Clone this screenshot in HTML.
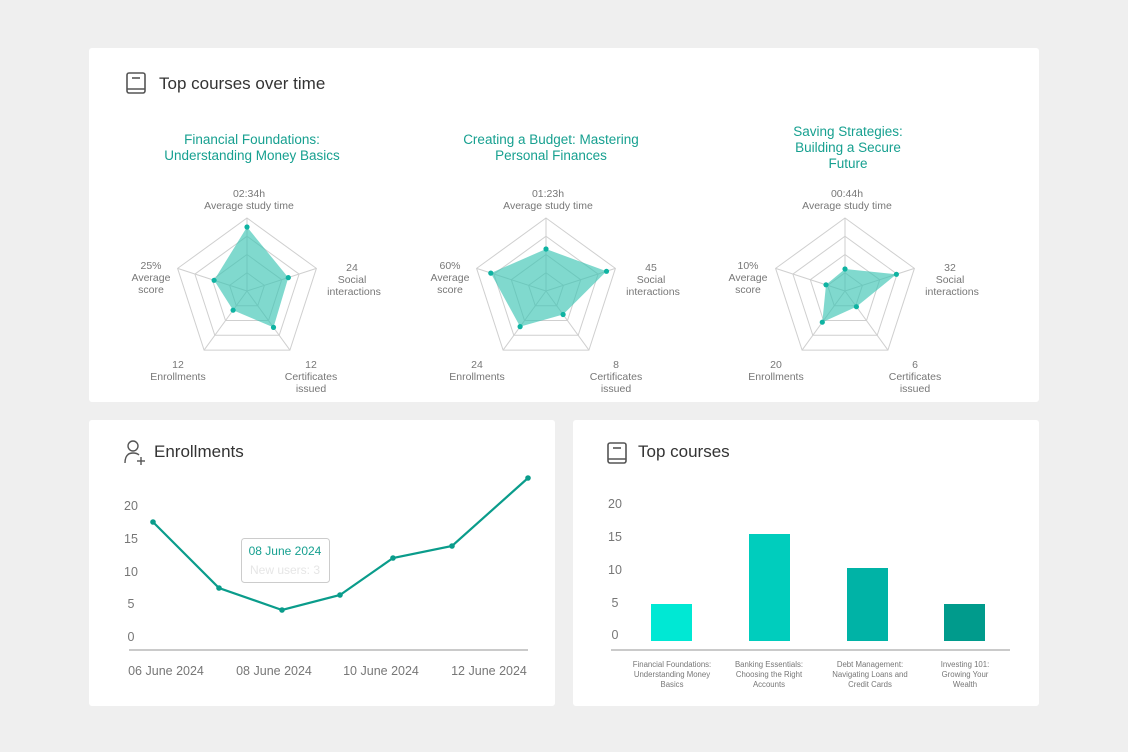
<!DOCTYPE html>
<html><head><meta charset="utf-8"><style>
body{margin:0;background:#efefef;font-family:"Liberation Sans",sans-serif;}
svg{display:block}
</style></head><body>
<svg width="1128" height="752" xmlns="http://www.w3.org/2000/svg" font-family="Liberation Sans, sans-serif">
<rect width="1128" height="752" fill="#efefef"/>
<rect x="89" y="48" width="950" height="354" rx="3" fill="#fff"/>
<rect x="89" y="420" width="466" height="286" rx="3" fill="#fff"/>
<rect x="573" y="420" width="466" height="286" rx="3" fill="#fff"/>

<!-- header 1 -->
<g fill="none" stroke="#555" stroke-width="1.6">
<rect x="127" y="73" width="18" height="20" rx="2"/><line x1="127" y1="89" x2="145" y2="89"/><line x1="132" y1="78" x2="140" y2="78"/>
</g>
<text x="159" y="89" font-size="17" fill="#333">Top courses over time</text>

<defs>
<g id="grid" fill="none" stroke="#cfcfcf" stroke-width="1">
<polygon points="0,-73 69.4,-22.6 42.9,59.1 -42.9,59.1 -69.4,-22.6"/>
<polygon points="0,-54.75 52.1,-16.9 32.2,44.3 -32.2,44.3 -52.1,-16.9"/>
<polygon points="0,-36.5 34.7,-11.3 21.5,29.5 -21.5,29.5 -34.7,-11.3"/>
<polygon points="0,-18.25 17.4,-5.6 10.7,14.8 -10.7,14.8 -17.4,-5.6"/>
<line x1="0" y1="0" x2="0" y2="-73"/><line x1="0" y1="0" x2="69.4" y2="-22.6"/><line x1="0" y1="0" x2="42.9" y2="59.1"/><line x1="0" y1="0" x2="-42.9" y2="59.1"/><line x1="0" y1="0" x2="-69.4" y2="-22.6"/>
</g>
</defs>

<g font-size="10.5" fill="#777" text-anchor="middle">
<!-- chart 1 -->
<g transform="translate(247,291)">
<use href="#grid"/>
<polygon points="0,-64 41.3,-13.4 26.5,36.4 -13.9,19.2 -32.9,-10.7" fill="#3cc4b4" fill-opacity="0.65"/>
<g fill="#0fb3a2"><circle cx="0" cy="-64" r="2.6"/><circle cx="41.3" cy="-13.4" r="2.6"/><circle cx="26.5" cy="36.4" r="2.6"/><circle cx="-13.9" cy="19.2" r="2.6"/><circle cx="-32.9" cy="-10.7" r="2.6"/></g>
</g>
<text x="252" y="144" font-size="13.5" fill="#17a090">Financial Foundations:</text>
<text x="252" y="160" font-size="13.5" fill="#17a090">Understanding Money Basics</text>
<text x="249" y="197">02:34h</text><text x="249" y="209">Average study time</text>
<text x="352" y="271">24</text><text x="352" y="283">Social</text><text x="354" y="295">interactions</text>
<text x="151" y="269">25%</text><text x="151" y="281">Average</text><text x="151" y="293">score</text>
<text x="178" y="368">12</text><text x="178" y="380">Enrollments</text>
<text x="311" y="368">12</text><text x="311" y="380">Certificates</text><text x="311" y="392">issued</text>

<!-- chart 2 -->
<g transform="translate(546,291)">
<use href="#grid"/>
<polygon points="0,-42 60.5,-19.7 17.1,23.5 -25.9,35.6 -55.2,-17.9" fill="#3cc4b4" fill-opacity="0.65"/>
<g fill="#0fb3a2"><circle cx="0" cy="-42" r="2.6"/><circle cx="60.5" cy="-19.7" r="2.6"/><circle cx="17.1" cy="23.5" r="2.6"/><circle cx="-25.9" cy="35.6" r="2.6"/><circle cx="-55.2" cy="-17.9" r="2.6"/></g>
</g>
<text x="551" y="144" font-size="13.5" fill="#17a090">Creating a Budget: Mastering</text>
<text x="551" y="160" font-size="13.5" fill="#17a090">Personal Finances</text>
<text x="548" y="197">01:23h</text><text x="548" y="209">Average study time</text>
<text x="651" y="271">45</text><text x="651" y="283">Social</text><text x="653" y="295">interactions</text>
<text x="450" y="269">60%</text><text x="450" y="281">Average</text><text x="450" y="293">score</text>
<text x="477" y="368">24</text><text x="477" y="380">Enrollments</text>
<text x="616" y="368">8</text><text x="616" y="380">Certificates</text><text x="616" y="392">issued</text>

<!-- chart 3 -->
<g transform="translate(845,291)">
<use href="#grid"/>
<polygon points="0,-22 51.4,-16.7 11.4,15.7 -22.7,31.2 -19,-6.2" fill="#3cc4b4" fill-opacity="0.65"/>
<g fill="#0fb3a2"><circle cx="0" cy="-22" r="2.6"/><circle cx="51.4" cy="-16.7" r="2.6"/><circle cx="11.4" cy="15.7" r="2.6"/><circle cx="-22.7" cy="31.2" r="2.6"/><circle cx="-19" cy="-6.2" r="2.6"/></g>
</g>
<text x="848" y="136" font-size="13.5" fill="#17a090">Saving Strategies:</text>
<text x="848" y="152" font-size="13.5" fill="#17a090">Building a Secure</text>
<text x="848" y="168" font-size="13.5" fill="#17a090">Future</text>
<text x="847" y="197">00:44h</text><text x="847" y="209">Average study time</text>
<text x="950" y="271">32</text><text x="950" y="283">Social</text><text x="952" y="295">interactions</text>
<text x="748" y="269">10%</text><text x="748" y="281">Average</text><text x="748" y="293">score</text>
<text x="776" y="368">20</text><text x="776" y="380">Enrollments</text>
<text x="915" y="368">6</text><text x="915" y="380">Certificates</text><text x="915" y="392">issued</text>
</g>

<!-- Enrollments card -->
<g fill="none" stroke="#555" stroke-width="1.4">
<circle cx="133" cy="446" r="5"/><path d="M125,463 Q125,453 133,453 Q137,453 139,455"/><line x1="137" y1="461" x2="145" y2="461"/><line x1="141" y1="457" x2="141" y2="465"/>
</g>
<text x="154" y="457" font-size="17" fill="#333">Enrollments</text>
<g font-size="12.5" fill="#777" text-anchor="middle">
<text x="131" y="510">20</text><text x="131" y="543">15</text><text x="131" y="576">10</text><text x="131" y="608">5</text><text x="131" y="641">0</text>
<text x="166" y="675">06 June 2024</text><text x="274" y="675">08 June 2024</text><text x="381" y="675">10 June 2024</text><text x="489" y="675">12 June 2024</text>
</g>
<line x1="129" y1="650" x2="528" y2="650" stroke="#aaa" stroke-width="1.2"/>
<polyline points="153,522 219,588 282,610 340,595 393,558 452,546 528,478" fill="none" stroke="#0a9c8b" stroke-width="2.2"/>
<g fill="#0a9c8b"><circle cx="153" cy="522" r="2.8"/><circle cx="219" cy="588" r="2.8"/><circle cx="282" cy="610" r="2.8"/><circle cx="340" cy="595" r="2.8"/><circle cx="393" cy="558" r="2.8"/><circle cx="452" cy="546" r="2.8"/><circle cx="528" cy="478" r="2.8"/></g>
<rect x="241.5" y="538.5" width="88" height="44" rx="3" fill="#fff" fill-opacity="0.85" stroke="#ccc"/>
<text x="285" y="555" font-size="12" fill="#17a090" text-anchor="middle">08 June 2024</text>
<text x="285" y="574" font-size="12" fill="#e6e6e6" text-anchor="middle">New users: 3</text>

<!-- Top courses card -->
<g fill="none" stroke="#555" stroke-width="1.6">
<rect x="608" y="443" width="18" height="20" rx="2"/><line x1="608" y1="459" x2="626" y2="459"/><line x1="613" y1="448" x2="621" y2="448"/>
</g>
<text x="638" y="457" font-size="17" fill="#333">Top courses</text>
<g font-size="12.5" fill="#777" text-anchor="middle">
<text x="615" y="508">20</text><text x="615" y="541">15</text><text x="615" y="574">10</text><text x="615" y="607">5</text><text x="615" y="639">0</text>
</g>
<rect x="651" y="604" width="41" height="37" fill="#00e8d4"/>
<rect x="749" y="534" width="41" height="107" fill="#00cdbd"/>
<rect x="847" y="568" width="41" height="73" fill="#00b3a6"/>
<rect x="944" y="604" width="41" height="37" fill="#009b8c"/>
<line x1="611" y1="650" x2="1010" y2="650" stroke="#aaa" stroke-width="1.2"/>
<g font-size="7.8" fill="#777" text-anchor="middle">
<text x="672" y="667">Financial Foundations:</text><text x="672" y="677">Understanding Money</text><text x="672" y="687">Basics</text>
<text x="769" y="667">Banking Essentials:</text><text x="769" y="677">Choosing the Right</text><text x="769" y="687">Accounts</text>
<text x="870" y="667">Debt Management:</text><text x="870" y="677">Navigating Loans and</text><text x="870" y="687">Credit Cards</text>
<text x="965" y="667">Investing 101:</text><text x="965" y="677">Growing Your</text><text x="965" y="687">Wealth</text>
</g>
</svg>
</body></html>
